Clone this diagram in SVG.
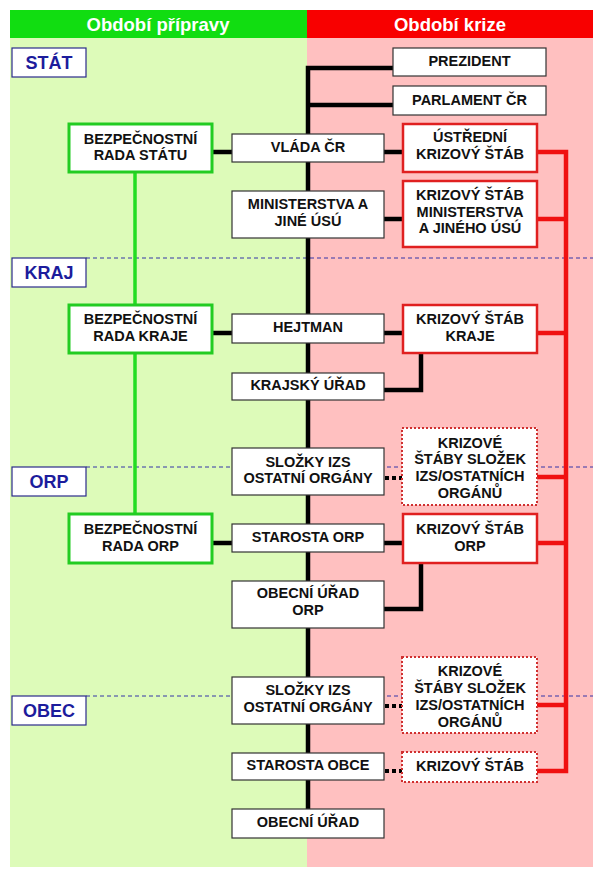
<svg xmlns="http://www.w3.org/2000/svg" width="603" height="880" viewBox="0 0 603 880">
<style>
text{font-family:"Liberation Sans",Arial,sans-serif;font-weight:bold;text-anchor:middle}
.t{font-size:14.5px;fill:#111}
.h{font-size:18.5px;fill:#fff}
.lv{font-size:18px;fill:#1c1c9c}
.wb{fill:#fff;stroke:#333;stroke-width:1.2}
.gb{fill:#fff;stroke:#22cc22;stroke-width:3}
.rb{fill:#fff;stroke:#e02020;stroke-width:2.5}
.db{fill:#fff;stroke:#d03030;stroke-width:2;stroke-dasharray:2 2}
.lb{fill:#fff;stroke:#2a2a8a;stroke-width:1.2}
.k{fill:none;stroke:#000;stroke-width:4.5}
.kd{fill:none;stroke:#000;stroke-width:4;stroke-dasharray:4 3}
.r{fill:none;stroke:#f01010;stroke-width:4.5}
.g{fill:none;stroke:#22dd22;stroke-width:3.5}
.dash{stroke:#3535a8;stroke-width:1;stroke-dasharray:4 3}
</style>
<rect width="603" height="880" fill="#fff"/>
<g id="background">
<rect x="10" y="38" width="297" height="829" fill="#ddfbb9"/>
<rect x="307" y="38" width="286" height="829" fill="#ffc0c0"/>
<rect x="10" y="10" width="297" height="28" fill="#11dd11"/>
<rect x="307" y="10" width="286" height="28" fill="#f80000"/>
<text class="h" x="158" y="31">Období přípravy</text>
<text class="h" x="450" y="31">Období krize</text>
<line class="dash" x1="86" y1="258" x2="593" y2="258"/>
<line class="dash" x1="86" y1="467" x2="593" y2="467"/>
<line class="dash" x1="86" y1="696" x2="593" y2="696"/>
</g>
<g id="levels">
<g id="lv-stat"><rect class="lb" x="12" y="48" width="74" height="29"/><text class="lv" x="49" y="69">STÁT</text></g>
<g id="lv-kraj"><rect class="lb" x="12" y="258" width="74" height="29"/><text class="lv" x="49" y="279">KRAJ</text></g>
<g id="lv-orp"><rect class="lb" x="12" y="467" width="74" height="29"/><text class="lv" x="49" y="488">ORP</text></g>
<g id="lv-obec"><rect class="lb" x="12" y="696" width="74" height="29"/><text class="lv" x="49" y="717">OBEC</text></g>
</g>
<g id="connectors">
<path class="g" d="M135 172V514"/>
<path class="k" d="M393 68H308V809"/>
<path class="k" d="M308 105H393"/>
<path class="k" d="M212 152H232M384 152H403"/>
<path class="k" d="M384 219H403"/>
<path class="k" d="M212 333H232M384 333H403"/>
<path class="k" d="M384 390H421V353"/>
<path class="k" d="M212 543H232M384 543H403"/>
<path class="k" d="M384 609H421V563"/>
<path class="kd" d="M385 478H402"/>
<path class="kd" d="M385 706H402"/>
<path class="kd" d="M385 771H402"/>
<path class="r" d="M537 152H566V771H537"/>
<path class="r" d="M537 219H566M537 333H566M537 477H566M537 543H566M537 705H566"/>
</g>
<g id="prezident"><rect class="wb" x="393" y="48" width="153" height="28"/><text class="t" x="469.5" y="66">PREZIDENT</text></g>
<g id="parlament"><rect class="wb" x="393" y="86" width="153" height="29"/><text class="t" x="469.5" y="105">PARLAMENT ČR</text></g>
<g id="vlada"><rect class="wb" x="232" y="134" width="152" height="28"/><text class="t" x="308" y="152">VLÁDA ČR</text></g>
<g id="ministerstva"><rect class="wb" x="232" y="191" width="152" height="47"/><text class="t" x="308" y="209">MINISTERSTVA A</text><text class="t" x="308" y="226">JINÉ ÚSÚ</text></g>
<g id="hejtman"><rect class="wb" x="232" y="314" width="152" height="29"/><text class="t" x="308" y="332">HEJTMAN</text></g>
<g id="krajsky-urad"><rect class="wb" x="232" y="373" width="152" height="27"/><text class="t" x="308" y="390">KRAJSKÝ ÚŘAD</text></g>
<g id="slozky-orp"><rect class="wb" x="232" y="448" width="152" height="47"/><text class="t" x="308" y="467">SLOŽKY IZS</text><text class="t" x="308" y="483">OSTATNÍ ORGÁNY</text></g>
<g id="starosta-orp"><rect class="wb" x="232" y="524" width="152" height="28"/><text class="t" x="308" y="542">STAROSTA ORP</text></g>
<g id="obecni-urad-orp"><rect class="wb" x="232" y="581" width="152" height="47"/><text class="t" x="308" y="598">OBECNÍ ÚŘAD</text><text class="t" x="308" y="615">ORP</text></g>
<g id="slozky-obec"><rect class="wb" x="232" y="677" width="152" height="47"/><text class="t" x="308" y="695">SLOŽKY IZS</text><text class="t" x="308" y="712">OSTATNÍ ORGÁNY</text></g>
<g id="starosta-obce"><rect class="wb" x="232" y="753" width="152" height="27"/><text class="t" x="308" y="770">STAROSTA OBCE</text></g>
<g id="obecni-urad"><rect class="wb" x="232" y="809" width="152" height="29"/><text class="t" x="308" y="827">OBECNÍ ÚŘAD</text></g>
<g id="brs"><rect class="gb" x="69" y="124" width="143" height="48"/><text class="t" x="140.5" y="143.5">BEZPEČNOSTNÍ</text><text class="t" x="140.5" y="159.5">RADA STÁTU</text></g>
<g id="brk"><rect class="gb" x="69" y="305" width="143" height="48"/><text class="t" x="140.5" y="323.5">BEZPEČNOSTNÍ</text><text class="t" x="140.5" y="341">RADA KRAJE</text></g>
<g id="bro"><rect class="gb" x="69" y="514" width="143" height="49"/><text class="t" x="140.5" y="533.5">BEZPEČNOSTNÍ</text><text class="t" x="140.5" y="551">RADA ORP</text></g>
<g id="uks"><rect class="rb" x="403" y="124" width="134" height="48"/><text class="t" x="470" y="142">ÚSTŘEDNÍ</text><text class="t" x="470" y="158.5">KRIZOVÝ ŠTÁB</text></g>
<g id="ks-min"><rect class="rb" x="403" y="181" width="134" height="66"/><text class="t" x="470" y="200">KRIZOVÝ ŠTÁB</text><text class="t" x="470" y="216.5">MINISTERSTVA</text><text class="t" x="470" y="233">A JINÉHO ÚSÚ</text></g>
<g id="ks-kraje"><rect class="rb" x="403" y="305" width="134" height="48"/><text class="t" x="470" y="323.5">KRIZOVÝ ŠTÁB</text><text class="t" x="470" y="341">KRAJE</text></g>
<g id="ks-izs-orp"><rect class="db" x="402" y="428" width="135" height="77"/><text class="t" x="470" y="447.5">KRIZOVÉ</text><text class="t" x="470" y="464">ŠTÁBY SLOŽEK</text><text class="t" x="470" y="481">IZS/OSTATNÍCH</text><text class="t" x="470" y="498">ORGÁNŮ</text></g>
<g id="ks-orp"><rect class="rb" x="403" y="514" width="134" height="49"/><text class="t" x="470" y="533.5">KRIZOVÝ ŠTÁB</text><text class="t" x="470" y="551">ORP</text></g>
<g id="ks-izs-obec"><rect class="db" x="402" y="657" width="135" height="76"/><text class="t" x="470" y="676">KRIZOVÉ</text><text class="t" x="470" y="693">ŠTÁBY SLOŽEK</text><text class="t" x="470" y="710">IZS/OSTATNÍCH</text><text class="t" x="470" y="727">ORGÁNŮ</text></g>
<g id="ks-obec"><rect class="db" x="402" y="752" width="135" height="30"/><text class="t" x="470" y="771">KRIZOVÝ ŠTÁB</text></g>
</svg>
